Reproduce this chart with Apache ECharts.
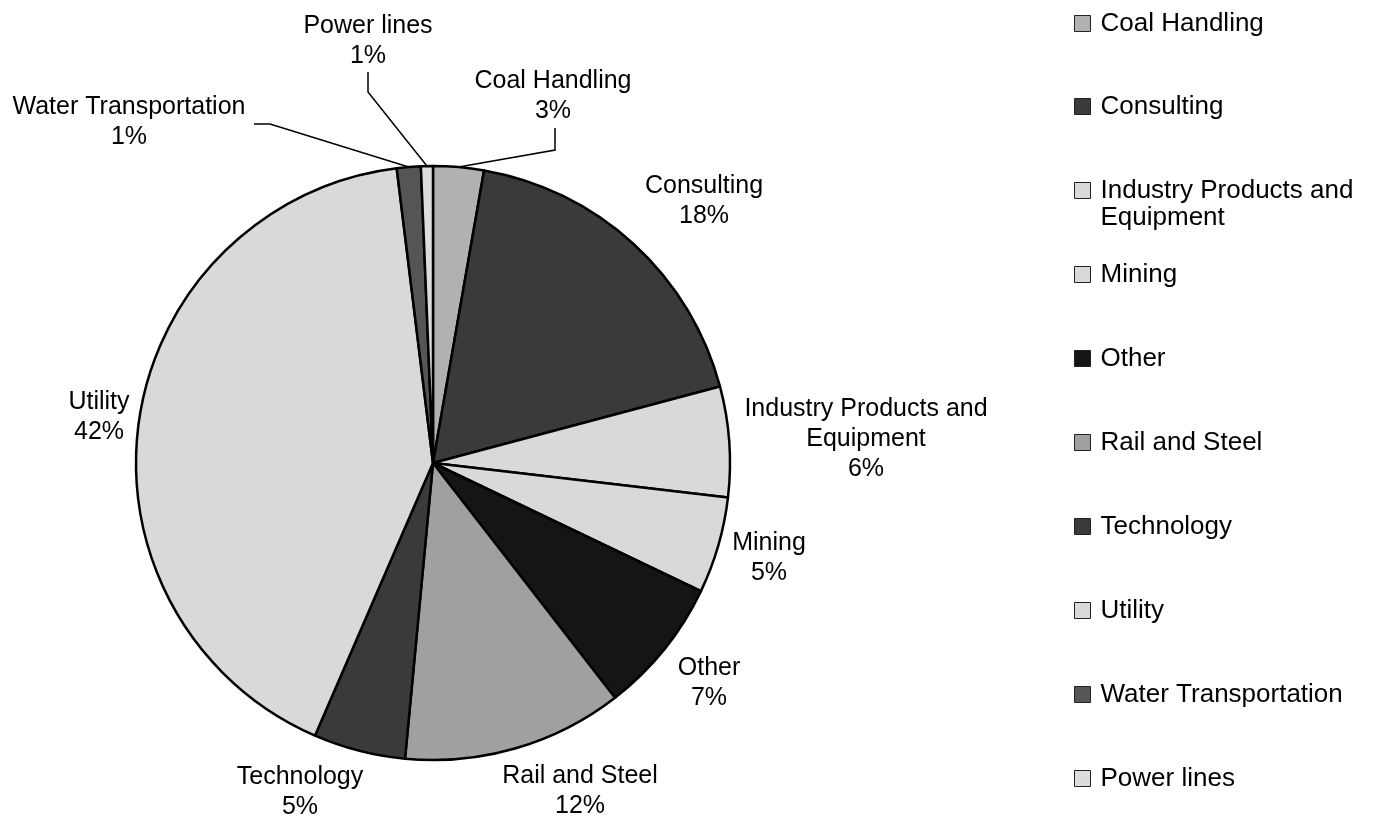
<!DOCTYPE html>
<html>
<head>
<meta charset="utf-8">
<title>Pie</title>
<script src="https://cdn.jsdelivr.net/npm/echarts@6/dist/echarts.min.js"></script>
<style>
  html, body { margin: 0; padding: 0; background: #fff; }
  #chart { width: 1375px; height: 821px; }
</style>
</head>
<body>
<div id="chart"></div>
<script>
// data (share of total, %)
const sectors = ['Coal Handling', 'Consulting', 'Industry Products and Equipment', 'Mining', 'Other',
  'Rail and Steel', 'Technology', 'Utility', 'Water Transportation', 'Power lines'];
const shares = [2.75, 18.1, 6.0, 5.25, 7.4, 12.0, 5.0, 41.55, 1.3, 0.65];
const fills = ['#b1b1b1', '#3a3a3a', '#d9d9d9', '#d9d9d9', '#151515',
  '#a0a0a0', '#3a3a3a', '#d9d9d9', '#555555', '#dcdcdc'];

// label centres, plus leader line bend / end for the small slices
const labelPos = {
  'Coal Handling': { x: 553, y: 96, bend: [555, 150], end: [555, 128] },
  'Consulting': { x: 704, y: 201 },
  'Industry Products and Equipment': { x: 866, y: 439 },
  'Mining': { x: 769, y: 558 },
  'Other': { x: 709, y: 683 },
  'Rail and Steel': { x: 580, y: 791 },
  'Technology': { x: 300, y: 792 },
  'Utility': { x: 99, y: 417 },
  'Water Transportation': { x: 129, y: 122, bend: [270, 124], end: [254, 124] },
  'Power lines': { x: 368, y: 41, bend: [368, 92], end: [368, 72] }
};
const legendCenters = [22, 105, 189, 273, 357, 441, 525, 609, 693, 777];

const font = '"Liberation Sans", Arial, Helvetica, sans-serif';
const chart = echarts.init(document.getElementById('chart'));

function wrapName(n) {
  return n === 'Industry Products and Equipment' ? 'Industry Products and\nEquipment' : n;
}

const legends = sectors.map(function (name, i) {
  const twoLine = name === 'Industry Products and Equipment';
  return {
    orient: 'vertical',
    left: 1069,
    top: legendCenters[i] - (twoLine ? 44 : 17),
    data: [name],
    icon: 'rect',
    itemWidth: 16,
    itemHeight: 16,
    selectedMode: false,
    itemStyle: { borderColor: '#222', borderWidth: 1 },
    // blank first line keeps the icon level with the first text line
    formatter: function (n) {
      return twoLine ? '\n' + wrapName(n) : n;
    },
    textStyle: {
      fontFamily: font,
      fontSize: 26,
      lineHeight: 27,
      color: '#000',
      padding: [0, 0, 0, 5]
    }
  };
});

chart.setOption({
  animation: false,
  legend: legends,
  series: [{
    type: 'pie',
    center: [433, 463],
    radius: 297,
    startAngle: 90,
    clockwise: true,
    avoidLabelOverlap: false,
    emphasis: { disabled: true },
    itemStyle: { borderColor: '#000', borderWidth: 2.5 },
    label: {
      show: true,
      position: 'outside',
      fontFamily: font,
      fontSize: 25,
      lineHeight: 30,
      color: '#000',
      align: 'center',
      formatter: function (p) {
        return wrapName(p.name) + '\n' + Math.round(p.percent) + '%';
      }
    },
    labelLine: { show: false, length: 10, length2: 10, lineStyle: { color: '#000', width: 1.5 } },
    labelLayout: function (p) {
      const pos = labelPos[sectors[p.dataIndex]];
      const out = { x: pos.x, y: pos.y, align: 'center', verticalAlign: 'middle' };
      if (pos.bend && p.labelLinePoints) {
        out.labelLinePoints = [p.labelLinePoints[0], pos.bend, pos.end];
      }
      return out;
    },
    data: sectors.map(function (name, i) {
      return {
        name: name,
        value: shares[i],
        itemStyle: { color: fills[i] },
        labelLine: { show: !!labelPos[name].bend }
      };
    })
  }]
});
</script>
</body>
</html>
